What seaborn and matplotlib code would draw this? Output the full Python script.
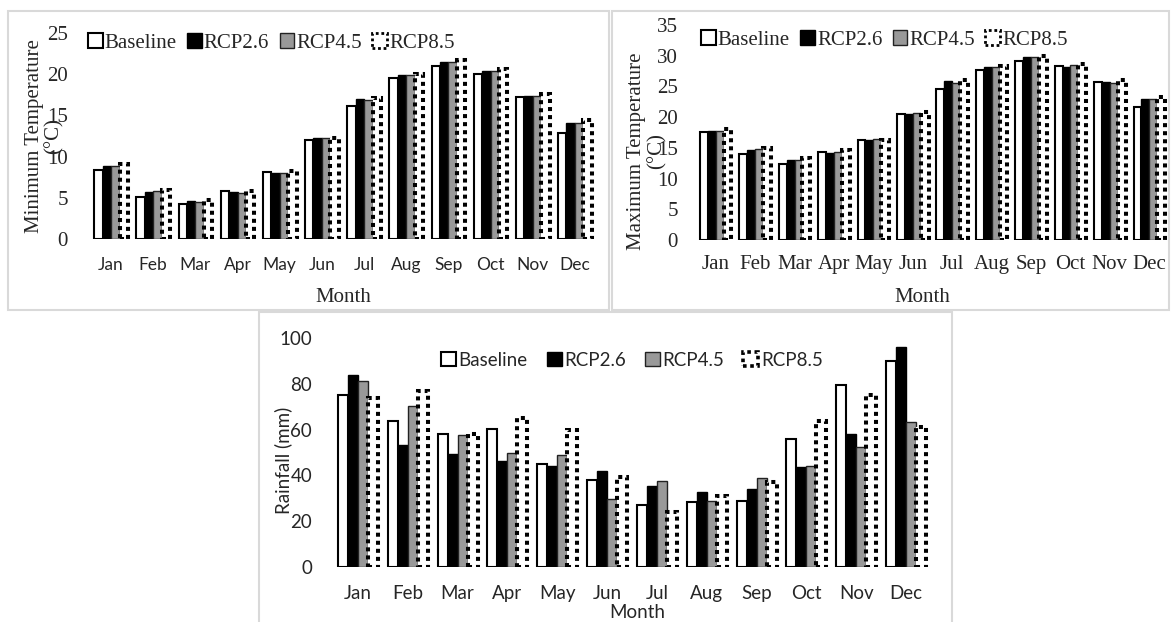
import matplotlib
matplotlib.use("Agg")
import matplotlib.pyplot as plt
from matplotlib.patches import Patch, Rectangle
import seaborn as sns
import pandas as pd

months = ['Jan', 'Feb', 'Mar', 'Apr', 'May', 'Jun', 'Jul', 'Aug', 'Sep', 'Oct', 'Nov', 'Dec']
scenarios = ['Baseline', 'RCP2.6', 'RCP4.5', 'RCP8.5']

tmin_base = [8.4, 5.1, 4.3, 5.8, 8.1, 12.0, 16.2, 19.5, 21.0, 20.0, 17.2, 12.9]
tmin_26 = [8.9, 5.7, 4.6, 5.7, 8.0, 12.3, 17.0, 19.9, 21.5, 20.4, 17.4, 14.1]
tmin_45 = [8.9, 5.8, 4.5, 5.6, 8.0, 12.3, 16.9, 19.9, 21.5, 20.4, 17.3, 14.1]
tmin_85 = [9.1, 5.9, 4.7, 5.8, 8.2, 12.2, 17.1, 20.0, 21.7, 20.6, 17.6, 14.4]

tmax_base = [17.5, 14.0, 12.3, 14.3, 16.3, 20.5, 24.6, 27.7, 29.2, 28.4, 25.8, 21.6]
tmax_26 = [17.8, 14.7, 13.0, 14.2, 16.2, 20.5, 25.9, 28.2, 29.8, 28.2, 25.8, 22.9]
tmax_45 = [17.8, 14.8, 13.0, 14.3, 16.4, 20.6, 25.6, 28.2, 29.8, 28.5, 25.6, 22.9]
tmax_85 = [18.0, 15.0, 13.3, 14.6, 16.2, 20.8, 26.0, 28.3, 29.9, 28.7, 26.1, 23.2]

rain_base = [75.0, 63.7, 58.1, 60.2, 44.8, 38.2, 27.1, 28.3, 29.0, 56.0, 79.5, 90.0]
rain_26 = [84.0, 53.3, 49.2, 46.3, 44.1, 41.9, 35.3, 32.9, 34.0, 43.5, 58.1, 95.9]
rain_45 = [81.4, 70.1, 57.5, 49.9, 48.8, 29.6, 37.4, 28.9, 38.9, 44.0, 52.4, 63.3]
rain_85 = [73.6, 76.9, 57.9, 65.2, 59.7, 39.3, 23.8, 30.8, 36.9, 63.7, 75.3, 61.1]

tmin_ticks = [0, 5, 10, 15, 20, 25]
tmax_ticks = [0, 5, 10, 15, 20, 25, 30, 35]
rain_ticks = [0, 20, 40, 60, 80, 100]

SERIF = 'Liberation Serif'
SANS = 'Lato'
FS_SERIF = 15
FS_SANS = 13.5

W, H = 1173, 622
sns.set_theme(style='white')
fig = plt.figure(figsize=(W / 100, H / 100), dpi=100)
fig.patch.set_facecolor('white')


def px_axes(left, top, right, bottom):
    return fig.add_axes([left / W, 1 - bottom / H, (right - left) / W, (bottom - top) / H])


def long_df(series):
    rows = []
    for s, vals in zip(scenarios, series):
        for m, v in zip(months, vals):
            rows.append({'Month': m, 'Scenario': s, 'Value': v})
    return pd.DataFrame(rows)


def style_bars(ax):
    for i, cont in enumerate(ax.containers):
        for p in cont.patches:
            if i == 0:
                p.set_facecolor('white'); p.set_edgecolor('black'); p.set_linewidth(1.5)
            elif i == 1:
                p.set_facecolor('black'); p.set_edgecolor('black'); p.set_linewidth(1.0)
            elif i == 2:
                p.set_facecolor('#999999'); p.set_edgecolor('#222222'); p.set_linewidth(1.0)
            else:
                p.set_facecolor('white'); p.set_edgecolor('black'); p.set_linewidth(2.9)
                p.set_linestyle((0, (1, 1))); p.set_capstyle('butt')
                p.set_zorder(3)


def handles(lw_dot):
    return [
        Patch(facecolor='white', edgecolor='black', linewidth=1.5, label=scenarios[0]),
        Patch(facecolor='black', edgecolor='black', linewidth=1.0, label=scenarios[1]),
        Patch(facecolor='#999999', edgecolor='#222222', linewidth=1.0, label=scenarios[2]),
        Patch(facecolor='white', edgecolor='black', linewidth=lw_dot, linestyle=(0, (1, 1)), label=scenarios[3]),
    ]


def draw(ax, series, ylim, ticks):
    df = long_df(series)
    sns.barplot(data=df, x='Month', y='Value', hue='Scenario', order=months, hue_order=scenarios,
                width=0.8, saturation=1, errorbar=None, legend=False, ax=ax,
                palette=['white', 'black', '#999999', 'white'])
    style_bars(ax)
    ax.set_xlim(-0.5, 11.5)
    ax.set_ylim(*ylim)
    ax.set_yticks(ticks)
    ax.set_xlabel('')
    ax.set_ylabel('')
    for sp in ax.spines.values():
        sp.set_visible(False)
    ax.tick_params(length=0)
    ax.set_facecolor('none')


# panel frames
for (l, t, r, b) in [(8, 11, 609, 310), (612, 11, 1169, 310), (259, 312, 952, 630)]:
    fig.patches.append(Rectangle((l / W, 1 - b / H), (r - l) / W, (b - t) / H, transform=fig.transFigure,
                                 facecolor='none', edgecolor='#d9d9d9', linewidth=1.5, zorder=0))

# top-left: minimum temperature
ax1 = px_axes(90, 33, 596, 239)
draw(ax1, [tmin_base, tmin_26, tmin_45, tmin_85], (0, 25), tmin_ticks)
ax1.set_yticklabels([str(t) for t in tmin_ticks], family=SERIF, fontsize=FS_SERIF)
ax1.set_xticks(range(12))
ax1.set_xticklabels(months, family=SANS, fontsize=12.5)
ax1.tick_params(axis='y', pad=16)
ax1.tick_params(axis='x', pad=13)
fig.legend(handles=handles(2.0), loc='center left', bbox_to_anchor=(88 / W, 1 - 43 / H), ncol=4,
           frameon=False, handlelength=0.7, handleheight=0.7, handletextpad=0.1, columnspacing=0.5,
           borderpad=0, borderaxespad=0, prop={'family': SERIF, 'size': FS_SERIF})
fig.text(44 / W, 1 - 136 / H, 'Minimum Temperature\n(°C)', rotation=90, ha='center', va='center',
         multialignment='center', family=SERIF, fontsize=FS_SERIF, linespacing=1.0)
fig.text(343 / W, 1 - 298 / H, 'Month', ha='center', va='center', family=SERIF, fontsize=FS_SERIF)

# top-right: maximum temperature
ax2 = px_axes(696, 25, 1169, 240)
draw(ax2, [tmax_base, tmax_26, tmax_45, tmax_85], (0, 35), tmax_ticks)
ax2.set_yticklabels([str(t) for t in tmax_ticks], family=SERIF, fontsize=FS_SERIF)
ax2.set_xticks(range(12))
ax2.set_xticklabels(months, family=SERIF, fontsize=FS_SERIF)
ax2.tick_params(axis='y', pad=13)
ax2.tick_params(axis='x', pad=11)
fig.legend(handles=handles(2.0), loc='center left', bbox_to_anchor=(701 / W, 1 - 40 / H), ncol=4,
           frameon=False, handlelength=0.7, handleheight=0.7, handletextpad=0.1, columnspacing=0.5,
           borderpad=0, borderaxespad=0, prop={'family': SERIF, 'size': FS_SERIF})
fig.text(647 / W, 1 - 151 / H, 'Maximum Temperature\n(°C)', rotation=90, ha='center', va='center',
         multialignment='center', family=SERIF, fontsize=FS_SERIF, linespacing=1.1)
fig.text(922 / W, 1 - 298 / H, 'Month', ha='center', va='center', family=SERIF, fontsize=FS_SERIF)

# bottom: rainfall
ax3 = px_axes(333, 338, 931, 567)
draw(ax3, [rain_base, rain_26, rain_45, rain_85], (0, 100), rain_ticks)
ax3.set_yticklabels([str(t) for t in rain_ticks], family=SANS, fontsize=FS_SANS)
ax3.set_xticks(range(12))
ax3.set_xticklabels(months, family=SANS, fontsize=FS_SANS)
ax3.tick_params(axis='y', pad=15)
ax3.tick_params(axis='x', pad=13)
fig.legend(handles=handles(2.6), loc='center', bbox_to_anchor=(632 / W, 1 - 360 / H), ncol=4,
           frameon=False, handlelength=0.8, handleheight=0.8, handletextpad=0.15, columnspacing=1.0,
           borderpad=0, borderaxespad=0, prop={'family': SANS, 'size': FS_SANS})
fig.text(283 / W, 1 - 460 / H, 'Rainfall (mm)', rotation=90, ha='center', va='center',
         family=SANS, fontsize=FS_SANS)
fig.text(637 / W, 1 - 613 / H, 'Month', ha='center', va='center', family=SANS, fontsize=FS_SANS)

fig.savefig('out.png', dpi=100, facecolor='white')
